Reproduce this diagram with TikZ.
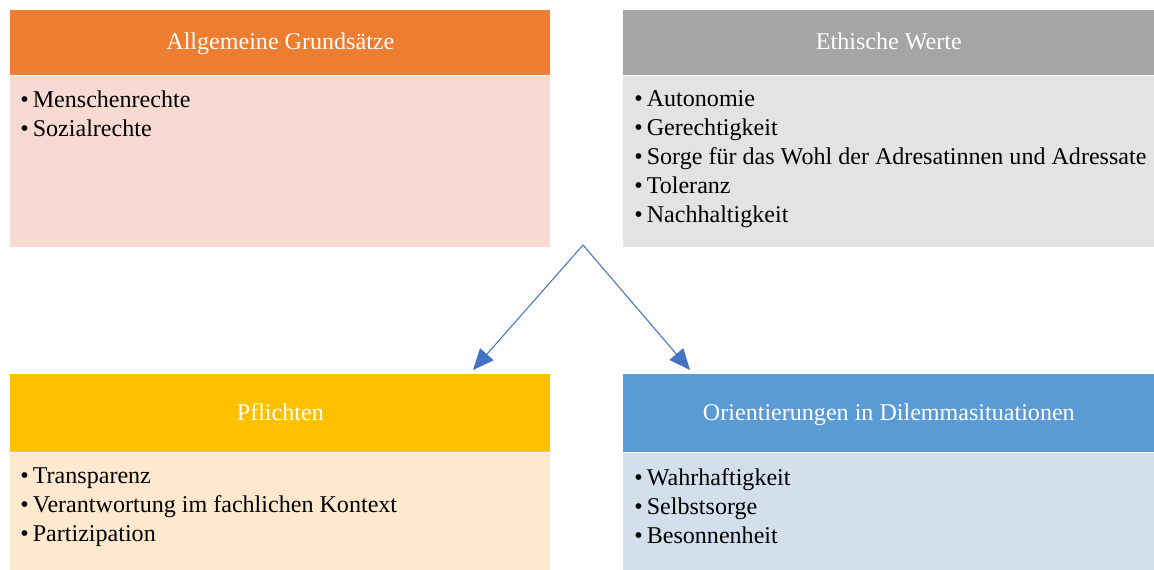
\documentclass[tikz,border=0pt]{standalone}
\usepackage{fontspec}
\setmainfont{Liberation Serif}
\usepackage{tikz}
\usetikzlibrary{arrows.meta,positioning,calc}
\definecolor{orangehead}{HTML}{ED7D31}
\definecolor{orangebody}{HTML}{F8DAD2}
\definecolor{grayhead}{HTML}{A5A5A5}
\definecolor{graybody}{HTML}{E3E3E3}
\definecolor{goldhead}{HTML}{FFC000}
\definecolor{goldbody}{HTML}{FEE8CE}
\definecolor{bluehead}{HTML}{5B9BD5}
\definecolor{bluebody}{HTML}{D4DFED}
\definecolor{arrowblue}{HTML}{4472C4}
\tikzset{head/.style={rectangle,inner sep=0pt,anchor=north west,text=white,text height=0.9em,text depth=0.1em,font=\fontsize{13.7}{16}\selectfont},
         body/.style={rectangle,inner sep=0pt},
         items/.style={inner sep=0pt,anchor=north west,align=left,text=black,font=\fontsize{13.7}{16.5}\selectfont}}
\newcommand{\itm}{\textbullet\,}

\begin{document}
\begin{tikzpicture}[>={Triangle[length=0.42cm,width=0.36cm]}]
        \useasboundingbox (0,0) rectangle (23.08,-11.4);
        % top row
        \node[head,fill=orangehead,minimum width=10.8cm,minimum height=1.3cm] (grund) at (0.2,-0.2) {Allgemeine Grundsätze};
        \node[body,fill=orangebody,minimum width=10.8cm,minimum height=3.42cm,below=0pt of grund.south west,anchor=north west] (grundbody) {};
        \node[items,below right=0.3cm and 0.2cm of grundbody.north west] (grundlist) {\itm Menschenrechte\\ \itm Sozialrechte};
        \node[head,fill=grayhead,minimum width=10.62cm,minimum height=1.3cm] (werte) at (12.46,-0.2) {Ethische Werte};
        \node[body,fill=graybody,minimum width=10.62cm,minimum height=3.42cm,below=0pt of werte.south west,anchor=north west] (wertebody) {};
        \node[items,below right=0.3cm and 0.22cm of wertebody.north west] (wertelist) {\itm Autonomie\\ \itm Gerechtigkeit\\ \itm Sorge für das Wohl der Adresatinnen und Adressate\\ \itm Toleranz\\ \itm Nachhaltigkeit};
        % bottom row
        \node[head,fill=goldhead,minimum width=10.8cm,minimum height=1.56cm] (pflicht) at (0.2,-7.48) {Pflichten};
        \node[body,fill=goldbody,minimum width=10.8cm,minimum height=2.36cm,below=0pt of pflicht.south west,anchor=north west] (pflichtbody) {};
        \node[items,below right=0.3cm and 0.2cm of pflichtbody.north west] (pflichtlist) {\itm Transparenz\\ \itm Verantwortung im fachlichen Kontext\\ \itm Partizipation};
        \node[head,fill=bluehead,minimum width=10.62cm,minimum height=1.56cm] (dilemma) at (12.46,-7.48) {Orientierungen in Dilemmasituationen};
        \node[body,fill=bluebody,minimum width=10.62cm,minimum height=2.36cm,below=0pt of dilemma.south west,anchor=north west] (dilemmabody) {};
        \node[items,below right=0.3cm and 0.22cm of dilemmabody.north west] (dilemmalist) {\itm Wahrhaftigkeit\\ \itm Selbstsorge\\ \itm Besonnenheit};
        % arrows
        \coordinate (apex) at (11.66,-4.9);
        \coordinate (tipL) at (9.46,-7.4);
        \coordinate (tipR) at (13.8,-7.4);
        \draw[->,arrowblue,semithick] (apex) -- (tipL);
        \draw[->,arrowblue,semithick] (apex) -- (tipR);
\end{tikzpicture}
\end{document}
